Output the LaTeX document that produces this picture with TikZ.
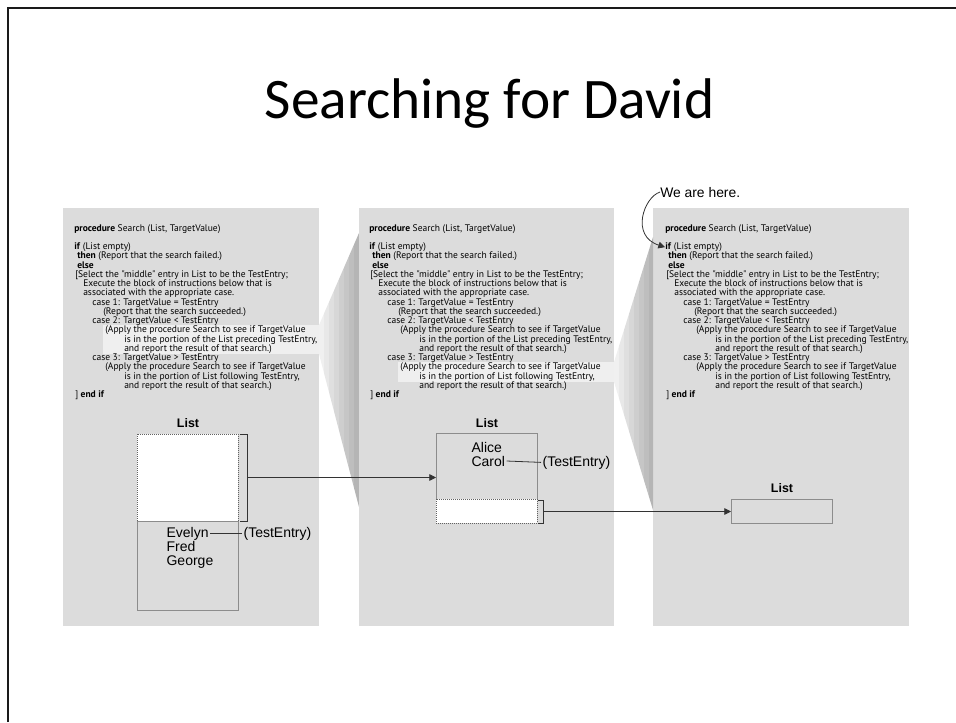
\documentclass[tikz,border=0pt]{standalone}
\usepackage{fontspec}
\setmainfont{Liberation Sans}
\newfontfamily\titlefont{Carlito}
\newfontfamily\codefont{PT Sans}
\usetikzlibrary{calc, positioning, arrows.meta}
\definecolor{colPanel}{HTML}{DCDCDC}
\definecolor{colHighlight}{HTML}{EFEFEF}
\definecolor{colFanLight}{HTML}{F0F0F0}
\definecolor{colFanDark}{HTML}{B4B4B4}
\definecolor{colBoxStroke}{HTML}{8C8C8C}
\definecolor{colFrame}{HTML}{1A1A1A}

\tikzset{
  codeline/.style={font=\codefont\fontsize{7.15}{7.15}\selectfont, anchor=base west, inner sep=0pt},
  entry/.style={font=\fontsize{10.5}{10.5}\selectfont, anchor=base west, inner sep=1pt},
  listlabel/.style={font=\bfseries\fontsize{9.3}{9.3}\selectfont, anchor=base, inner sep=0pt},
  listbox/.style={draw=colBoxStroke, line width=0.7pt},
  gonebox/.style={draw=colBoxStroke!70!black, fill=white, line width=0.6pt, dash pattern=on 0.6pt off 0.9pt},
  bracket/.style={draw=black!80, line width=0.7pt},
  pointer/.style={draw=black!80, line width=0.6pt, -{Triangle[length=5pt,width=5pt]}}
}

% the procedure text of one panel
\newcommand{\drawProcedure}[3]{%
  \foreach \n/\dx/\txt in {%
    0/0/{\textbf{procedure} Search (List, TargetValue)},
    2/0/{\textbf{if} (List empty)},
    3/3/{\textbf{then} (Report that the search failed.)},
    4/3/{\textbf{else}},
    5/1/{[Select the "middle" entry in List to be the TestEntry;},
    6/9/{Execute the block of instructions below that is},
    7/9/{associated with the appropriate case.},
    8/18/{case 1: TargetValue = TestEntry},
    9/29/{(Report that the search succeeded.)},
    10/18/{case 2: TargetValue < TestEntry},
    11/31/{(Apply the procedure Search to see if TargetValue},
    12/50/{is in the portion of the List preceding TestEntry,},
    13/50/{and report the result of that search.)},
    14/18/{case 3: TargetValue > TestEntry},
    15/31/{(Apply the procedure Search to see if TargetValue},
    16/50/{is in the portion of List following TestEntry,},
    17/50/{and report the result of that search.)},
    18/1/{] \textbf{end if}}%
  }{%
    \node[codeline] (#1-\n) at ({#2+\dx},{#3+\n*9.25}) {\txt};
  }%
}

\begin{document}
\begin{tikzpicture}[x=0.75pt, y=-0.75pt]
  \useasboundingbox (0,0) rectangle (956,722);

  % Slide frame
  \draw[colFrame, line width=1.5pt] (7.5,722) -- (7.5,8) -- (956,8);

  % Title
  \node[font=\titlefont\fontsize{43}{43}\selectfont, anchor=base, inner sep=0pt] (title) at (489.5,118.5) {Searching for David};

  % Panels
  \fill[colPanel] (63,208) rectangle (319,626);
  \fill[colPanel] (359,208) rectangle (614,626);
  \fill[colPanel] (653,208) rectangle (909,626);

  % Highlighted lines (the recursive call)
  \fill[colHighlight] (103,325) rectangle (319,354);
  \fill[colHighlight] (398,362) rectangle (614,382);

  % Fans from the call to the next activation
  \begin{scope}
    \clip (319,325) -- (359,233) -- (359,507) -- (319,354) -- cycle;
    \foreach \i [evaluate=\i as \p using int(\i*14)] in {0,...,7} {
      \fill[colFanDark!\p!colFanLight] ({319+\i*5},200) rectangle ({319+(\i+1)*5},520);
    }
  \end{scope}
  \begin{scope}
    \clip (614,362) -- (653,237) -- (653,510) -- (614,382) -- cycle;
    \foreach \i [evaluate=\i as \p using int(\i*14)] in {0,...,7} {
      \fill[colFanDark!\p!colFanLight] ({614+\i*5},200) rectangle ({614+(\i+1)*5},520);
    }
  \end{scope}

  % Procedure text
  \drawProcedure{p1}{74}{231}
  \drawProcedure{p2}{369}{231}
  \drawProcedure{p3}{665}{231}

  % Panel 1: list and test entry
  \node[listlabel] (list1) at (188,427) {List};
  \draw[gonebox] (137,434) rectangle (238,521);
  \draw[listbox] (137,521) rectangle (238,610);
  \draw[bracket] (240,434) -- (247,434) -- (247,521) -- (240,521);
  \coordinate (brk1) at (247,477.5);
  \node[entry] (evelyn) at (165,537.5) {Evelyn};
  \node[entry] (fred) at (165,551) {Fred};
  \node[entry] (george) at (165,565) {George};
  \node[entry] (test1) at (242,537.5) {(TestEntry)};
  \draw[black!80, line width=0.6pt] (evelyn.east) -- (test1.west);

  % Panel 2: list and test entry
  \node[listlabel] (list2) at (487,427) {List};
  \draw[listbox] (436,433) rectangle (537,499);
  \draw[gonebox] (436,499) rectangle (537,523);
  \coordinate (box2w) at (436,466);
  \draw[bracket] (538,500) -- (543,500) -- (543,523) -- (538,523);
  \coordinate (brk2) at (543,511.5);
  \node[entry] (alice) at (470,452) {Alice};
  \node[entry] (carol) at (470,466) {Carol};
  \node[entry] (test2) at (541,466) {(TestEntry)};
  \draw[black!80, line width=0.6pt] (carol.east) -- (test2.west);

  % Panel 3: empty list
  \node[listlabel] (list3) at (782,492) {List};
  \draw[listbox] (731,499) rectangle (832,523);
  \coordinate (box3w) at (731,511);

  % Pointers to the next activation
  \draw[pointer] (brk1) -- (brk1 -| box2w);
  \draw[pointer] (brk2) -- (brk2 -| box3w);

  % We are here
  \node[font=\fontsize{10.4}{10.4}\selectfont, anchor=base west, inner sep=0pt] (here) at (660,197) {We are here.};
  \draw[pointer] (here.west) .. controls (644,197) and (630,236) .. (p3-2.west);
\end{tikzpicture}
\end{document}
